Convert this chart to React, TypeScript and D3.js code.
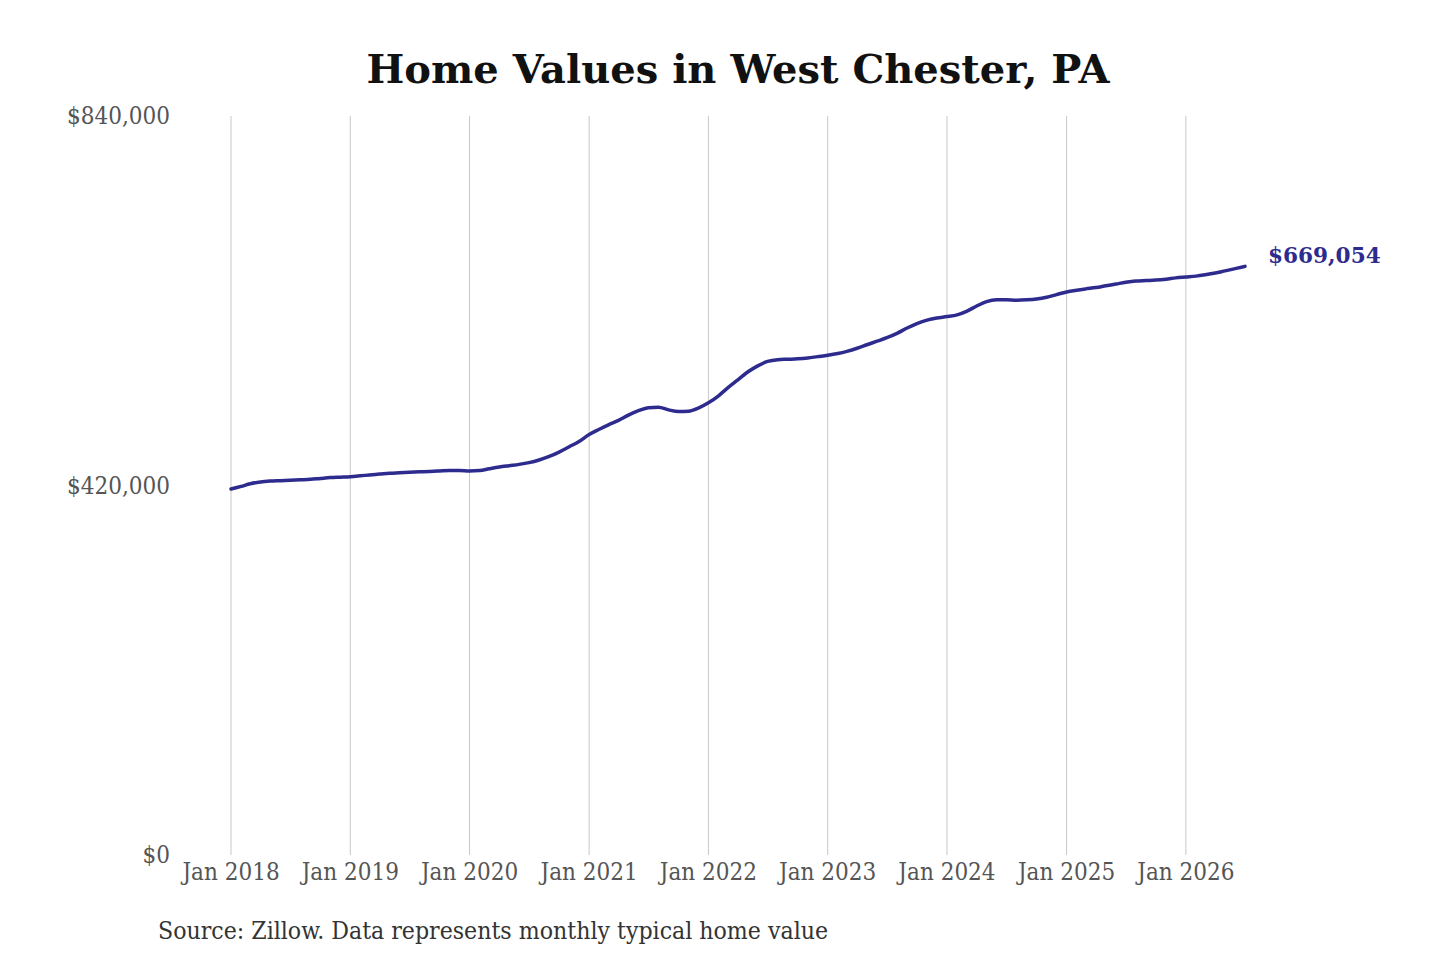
import React, { useEffect, useRef } from 'react';
import * as d3 from 'd3';

// monthly typical home value, Jan 2018 .. Jul 2026 (thousands of $, last exact)
const years = [2018, 2019, 2020, 2021, 2022, 2023, 2024, 2025, 2026];
const values2018 = [416, 419, 422, 424, 425, 425.5, 426, 426.5, 427, 428, 429, 429.5];
const values2019 = [430, 431, 432, 433, 434, 434.5, 435, 435.5, 436, 436.5, 437, 437];
const values2020 = [436.5, 437, 439, 441, 442.5, 444, 446, 449, 453, 458, 464, 470];
const values2021 = [478, 484, 489, 494, 500, 505, 508.5, 509, 506, 504, 504.5, 508];
const values2022 = [514, 522, 531, 540, 549, 556, 561, 563, 563.5, 564, 565, 566.5];
const values2023 = [568, 570, 572.5, 576, 580, 584, 588, 593, 599, 604, 608, 610.5];
const values2024 = [612, 614, 618, 624, 629, 631, 631, 630.5, 631, 632, 634, 637];
const values2025 = [640, 642, 643.5, 645, 647, 649, 651, 652.5, 653, 653.5, 654.5, 656];
const values2026 = [657, 658, 659.5, 661.5, 664, 666.5, 669.054];

const yTicks = [0, 420000, 840000];
const title = 'Home Values in West Chester, PA';
const source = 'Source: Zillow. Data represents monthly typical home value';

const serif = '"DejaVu Serif Condensed", "DejaVu Serif", serif';

const App: React.FC = () => {
  const ref = useRef<HTMLDivElement | null>(null);

  useEffect(() => {
    if (!ref.current) return;
    d3.select(ref.current).selectAll('*').remove();

    const width = 1440;
    const height = 960;
    const margin = { top: 116, right: 195, bottom: 105, left: 231 };

    const all = [values2018, values2019, values2020, values2021, values2022,
      values2023, values2024, values2025, values2026];
    const data: { date: Date; value: number }[] = [];
    all.forEach((arr, yi) => {
      arr.forEach((v, m) => data.push({ date: new Date(years[yi], m, 1), value: v * 1000 }));
    });

    const svg = d3.select(ref.current)
      .append('svg')
      .attr('width', width)
      .attr('height', height)
      .style('display', 'block');

    svg.append('rect').attr('width', width).attr('height', height).attr('fill', '#fff');

    const x = d3.scaleTime()
      .domain([new Date(2018, 0, 1), new Date(2026, 6, 1)])
      .range([margin.left, 1245]);

    const y = d3.scaleLinear()
      .domain([0, 840000])
      .range([height - margin.bottom, margin.top]);

    svg.append('text')
      .attr('x', 738)
      .attr('y', 83)
      .attr('text-anchor', 'middle')
      .style('font-family', '"DejaVu Serif", serif')
      .style('font-weight', 'bold')
      .style('font-size', '40px')
      .attr('fill', '#111')
      .text(title);

    const jans = years.map(yr => new Date(yr, 0, 1));

    svg.append('g')
      .selectAll('line')
      .data(jans)
      .enter()
      .append('line')
      .attr('x1', d => x(d))
      .attr('x2', d => x(d))
      .attr('y1', y(840000))
      .attr('y2', y(0))
      .attr('stroke', '#c8c8c8')
      .attr('stroke-width', 1);

    svg.append('g')
      .selectAll('text')
      .data(jans)
      .enter()
      .append('text')
      .attr('x', d => x(d))
      .attr('y', y(0) + 25)
      .attr('text-anchor', 'middle')
      .style('font-family', serif)
      .style('font-stretch', 'condensed')
      .style('font-size', '24px')
      .attr('fill', '#555')
      .text(d => d3.timeFormat('Jan %Y')(d));

    svg.append('g')
      .selectAll('text')
      .data(yTicks)
      .enter()
      .append('text')
      .attr('x', 170)
      .attr('y', d => y(d) + 8)
      .attr('text-anchor', 'end')
      .style('font-family', serif)
      .style('font-stretch', 'condensed')
      .style('font-size', '24px')
      .attr('fill', '#555')
      .text(d => d3.format('$,')(d));

    const line = d3.line<{ date: Date; value: number }>()
      .x(d => x(d.date))
      .y(d => y(d.value))
      .curve(d3.curveMonotoneX);

    svg.append('path')
      .datum(data)
      .attr('fill', 'none')
      .attr('stroke', '#2e2b8e')
      .attr('stroke-width', 3.5)
      .attr('stroke-linecap', 'round')
      .attr('d', line);

    const last = data[data.length - 1];
    svg.append('text')
      .attr('x', x(last.date) + 23)
      .attr('y', y(last.value) - 3)
      .style('font-family', '"DejaVu Serif", serif')
      .style('font-weight', 'bold')
      .style('font-size', '21.6px')
      .attr('fill', '#2e2b8e')
      .text(d3.format('$,')(Math.round(last.value)));

    svg.append('text')
      .attr('x', 158)
      .attr('y', 939)
      .style('font-family', serif)
      .style('font-stretch', 'condensed')
      .style('font-size', '24.6px')
      .attr('fill', '#333')
      .text(source);
  }, []);

  return <div ref={ref} style={{ position: 'absolute', left: 0, top: 0 }} />;
};

export default App;
